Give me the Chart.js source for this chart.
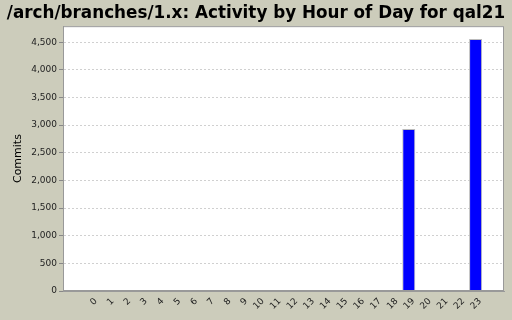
<!DOCTYPE html>
<html><head><meta charset="utf-8">
<script src="https://cdn.jsdelivr.net/npm/chart.js@4.4.1/dist/chart.umd.min.js"></script>
<style>html,body{margin:0;padding:0;background:#CCCCBB;}canvas{display:block;}</style>
</head><body>
<canvas id="c" width="512" height="320"></canvas>
<script>
const hours = [0,1,2,3,4,5,6,7,8,9,10,11,12,13,14,15,16,17,18,19,20,21,22,23];
const commits = [0,0,0,0,0,0,0,0,0,0,0,0,0,0,0,0,0,0,0,2930,0,0,0,4560];
const yTicks = [0,500,1000,1500,2000,2500,3000,3500,4000,4500];
const titleText = '/arch/branches/1.x: Activity by Hour of Day for qal21';
const yAxisTitle = 'Commits';

const bgPlugin = {
  id: 'bg',
  beforeDraw(chart) {
    const {ctx, chartArea: a} = chart;
    ctx.save();
    ctx.fillStyle = '#CCCCBB';
    ctx.fillRect(0, 0, chart.width, chart.height);
    ctx.fillStyle = '#FFFFFF';
    ctx.fillRect(a.left, a.top, a.right - a.left, a.bottom - a.top);
    ctx.restore();
  },
  afterDraw(chart) {
    const {ctx, chartArea: a} = chart;
    ctx.save();
    ctx.strokeStyle = '#999999';
    ctx.lineWidth = 1;
    ctx.strokeRect(a.left + 0.5, a.top + 0.5, a.right - a.left - 1, a.bottom - a.top - 1);
    ctx.restore();
  }
};

new Chart(document.getElementById('c'), {
  type: 'bar',
  data: {
    datasets: [{
      data: hours.map((h, i) => ({x: h, y: commits[i]})),
      backgroundColor: '#0000FF',
      borderColor: '#BBBBBB',
      borderWidth: c => (c.raw && c.raw.y) ? 1 : 0,
      borderSkipped: 'bottom',
      barPercentage: 0.78,
      categoryPercentage: 1.0
    }]
  },
  options: {
    responsive: false,
    animation: false,
    layout: {padding: {left: 0, right: 0, top: 0, bottom: 0}},
    plugins: {
      legend: {display: false},
      tooltip: {enabled: false},
      title: {
        display: true,
        text: titleText,
        color: '#000000',
        font: {family: 'DejaVu Sans', size: 16.8, weight: 'bold', lineHeight: 1.2},
        padding: {top: 4, bottom: 2}
      }
    },
    scales: {
      x: {
        type: 'linear',
        offset: false,
        min: -1.7,
        max: 24.7,
        afterBuildTicks: s => { s.ticks = hours.map(v => ({value: v})); },
        afterFit: s => { s.height = 29; },
        grid: {display: false, drawTicks: false},
        border: {display: true, color: '#999999'},
        ticks: {
          autoSkip: false,
          maxRotation: 45,
          minRotation: 45,
          padding: 5,
          labelOffset: 4.5,
          color: '#222222',
          font: {family: 'DejaVu Sans', size: 9},
          callback: v => String(v)
        }
      },
      y: {
        min: 0,
        max: 4790,
        afterBuildTicks: s => { s.ticks = yTicks.map(v => ({value: v})); },
        afterFit: s => { s.width = 63; },
        grid: {
          color: '#D0D0D0',
          tickColor: '#888888',
          tickBorderDash: [],
          tickLength: 4,
          drawTicks: true
        },
        border: {display: true, color: '#999999', dash: [2, 2]},
        ticks: {
          padding: 2,
          color: '#222222',
          font: {family: 'DejaVu Sans', size: 9},
          callback: v => v.toLocaleString('en-US')
        },
        title: {
          display: true,
          text: yAxisTitle,
          color: '#000000',
          font: {family: 'DejaVu Sans', size: 11},
          padding: {top: 12, bottom: 0}
        }
      },
      yRight: {
        position: 'right',
        display: true,
        min: 0,
        max: 1,
        afterFit: s => { s.width = 8; },
        grid: {display: false, drawTicks: false},
        border: {display: false},
        ticks: {display: false}
      }
    }
  },
  plugins: [bgPlugin]
});
</script>
</body></html>
